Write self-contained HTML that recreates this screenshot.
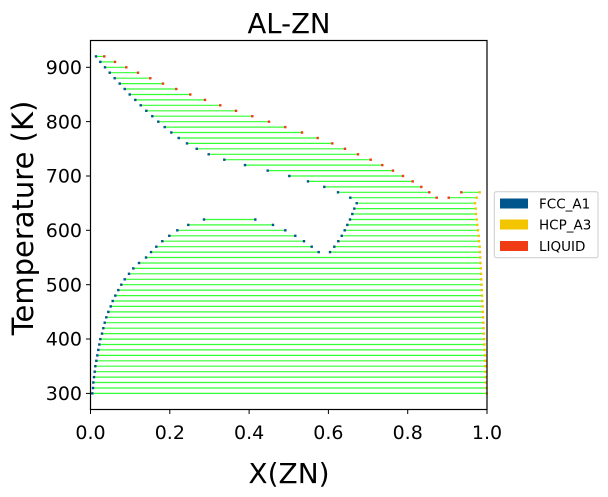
<!DOCTYPE html>
<html><head><meta charset="utf-8"><style>
html,body{margin:0;padding:0;background:#fff;width:608px;height:497px;overflow:hidden}
svg{display:block;font-family:"DejaVu Sans","Liberation Sans",sans-serif}
</style></head><body>
<svg id="s" width="608" height="497" viewBox="0 0 608 497" xmlns="http://www.w3.org/2000/svg">
<g id="g"></g>
<rect x="90.5" y="40.5" width="396.5" height="369" fill="none" stroke="#000" stroke-width="1.2"/>
<g stroke="#000" stroke-width="1">
<line x1="90.5" y1="409.5" x2="90.5" y2="414"/><line x1="169.8" y1="409.5" x2="169.8" y2="414"/>
<line x1="249.1" y1="409.5" x2="249.1" y2="414"/><line x1="328.4" y1="409.5" x2="328.4" y2="414"/>
<line x1="407.7" y1="409.5" x2="407.7" y2="414"/><line x1="487" y1="409.5" x2="487" y2="414"/>
<line x1="86" y1="67.3" x2="90.5" y2="67.3"/><line x1="86" y1="121.6" x2="90.5" y2="121.6"/>
<line x1="86" y1="176" x2="90.5" y2="176"/><line x1="86" y1="230.3" x2="90.5" y2="230.3"/>
<line x1="86" y1="284.7" x2="90.5" y2="284.7"/><line x1="86" y1="339" x2="90.5" y2="339"/>
<line x1="86" y1="393.4" x2="90.5" y2="393.4"/>
</g>
<g font-size="19" fill="#000" text-anchor="middle">
<text x="90.5" y="439">0.0</text><text x="169.8" y="439">0.2</text><text x="249.1" y="439">0.4</text>
<text x="328.4" y="439">0.6</text><text x="407.7" y="439">0.8</text><text x="487" y="439">1.0</text>
</g>
<g font-size="19" fill="#000" text-anchor="end">
<text x="82" y="74">900</text><text x="82" y="128.3">800</text><text x="82" y="182.7">700</text>
<text x="82" y="237">600</text><text x="82" y="291.4">500</text><text x="82" y="345.7">400</text>
<text x="82" y="400.1">300</text>
</g>
<text x="289" y="33" font-size="27.5" text-anchor="middle">AL-ZN</text>
<text x="289" y="483" font-size="28" text-anchor="middle">X(ZN)</text>
<text transform="translate(33,218) rotate(-90)" font-size="29" text-anchor="middle">Temperature (K)</text>
<rect x="494.3" y="191.7" width="103.7" height="66" rx="2" fill="#fff" stroke="#ccc" stroke-width="1"/>
<rect x="500" y="198.5" width="28" height="10" fill="#00558c"/>
<rect x="500" y="219.5" width="28" height="10" fill="#f2c500"/>
<rect x="500" y="241" width="28" height="10" fill="#f03c14"/>
<g font-size="13.5" fill="#000"><text x="539" y="208.5">FCC_A1</text><text x="539" y="229.5">HCP_A3</text><text x="539" y="251">LIQUID</text></g>
</svg>
<script>
var B="#00558c",Y="#f2c500",R="#f03c14",G="#33ff33";
function y(T){return 67.3+(900-T)*0.5435;}
var segs=[];
var upL=[96,100.3,105,109.7,114.7,119.7,124.7,129.7,135.3,140.7,146.3,152.3,158.3,164.7,171.3,178.7,187,196.7,208.7,224.3,245,267.7,289.3,308,324.3,338,350.3];
var upR=[104.3,115,126.3,138,150.3,163,176.3,190.3,205,220.3,236,252.3,269,285.3,302,317.7,332.3,345,358,370.7,382.3,393,403,412.7,421.3,429.3,436.7];
for(var i=0;i<upL.length;i++){segs.push([920-10*i,upL[i],upR[i],B,R]);}
segs.push([670,461.3,479.7,R,Y]);segs.push([660,448.7,476.7,R,Y]);
var rbT=[650,640,630,620,610,600,590,580,570,560],rbL=[356.7,354.3,352.3,350,347.3,344.7,341.7,338.3,334.3,330],rbR=[475,475.7,476,476.7,477.3,478,478.7,479,479.7,480];
for(i=0;i<rbT.length;i++)segs.push([rbT[i],rbL[i],rbR[i],B,Y]);
var gT=[620,610,600,590,580,570,560],gL=[204,188.3,177.3,169.3,162.3,156.3,151],gR=[255.3,273,285.3,295.3,304,311.7,318.7];
for(i=0;i<gT.length;i++)segs.push([gT[i],gL[i],gR[i],B,B]);
var lo=[[550,146],[540,139],[530,133.3],[520,129],[510,124.7],[500,121.3],[490,118.3],[480,115.3],[470,112.7],[460,110.7],[450,108.3],[440,106.3],[430,104.7],[420,103.3],[410,102],[400,100.3],[390,99.3],[380,98.3],[370,97.3],[360,96.3],[350,95.3],[340,94.7],[330,94],[320,93.3],[310,93],[300,92.3]];
for(i=0;i<lo.length;i++){var T=lo[i][0];segs.push([T,lo[i][1],480+(560-T)/260*6.7,B,Y]);}
var h="";
segs.forEach(function(s){var yy=y(s[0]).toFixed(1);
h+='<line x1="'+s[1]+'" y1="'+yy+'" x2="'+s[2]+'" y2="'+yy+'" stroke="'+G+'" stroke-width="1.2"/>';
h+='<rect x="'+(s[1]-1.2)+'" y="'+(yy-1.2)+'" width="2.4" height="2.4" fill="'+s[3]+'"/>';
h+='<rect x="'+(s[2]-1.2)+'" y="'+(yy-1.2)+'" width="2.4" height="2.4" fill="'+s[4]+'"/>';});
document.getElementById("g").innerHTML=h;
</script>
</body></html>
